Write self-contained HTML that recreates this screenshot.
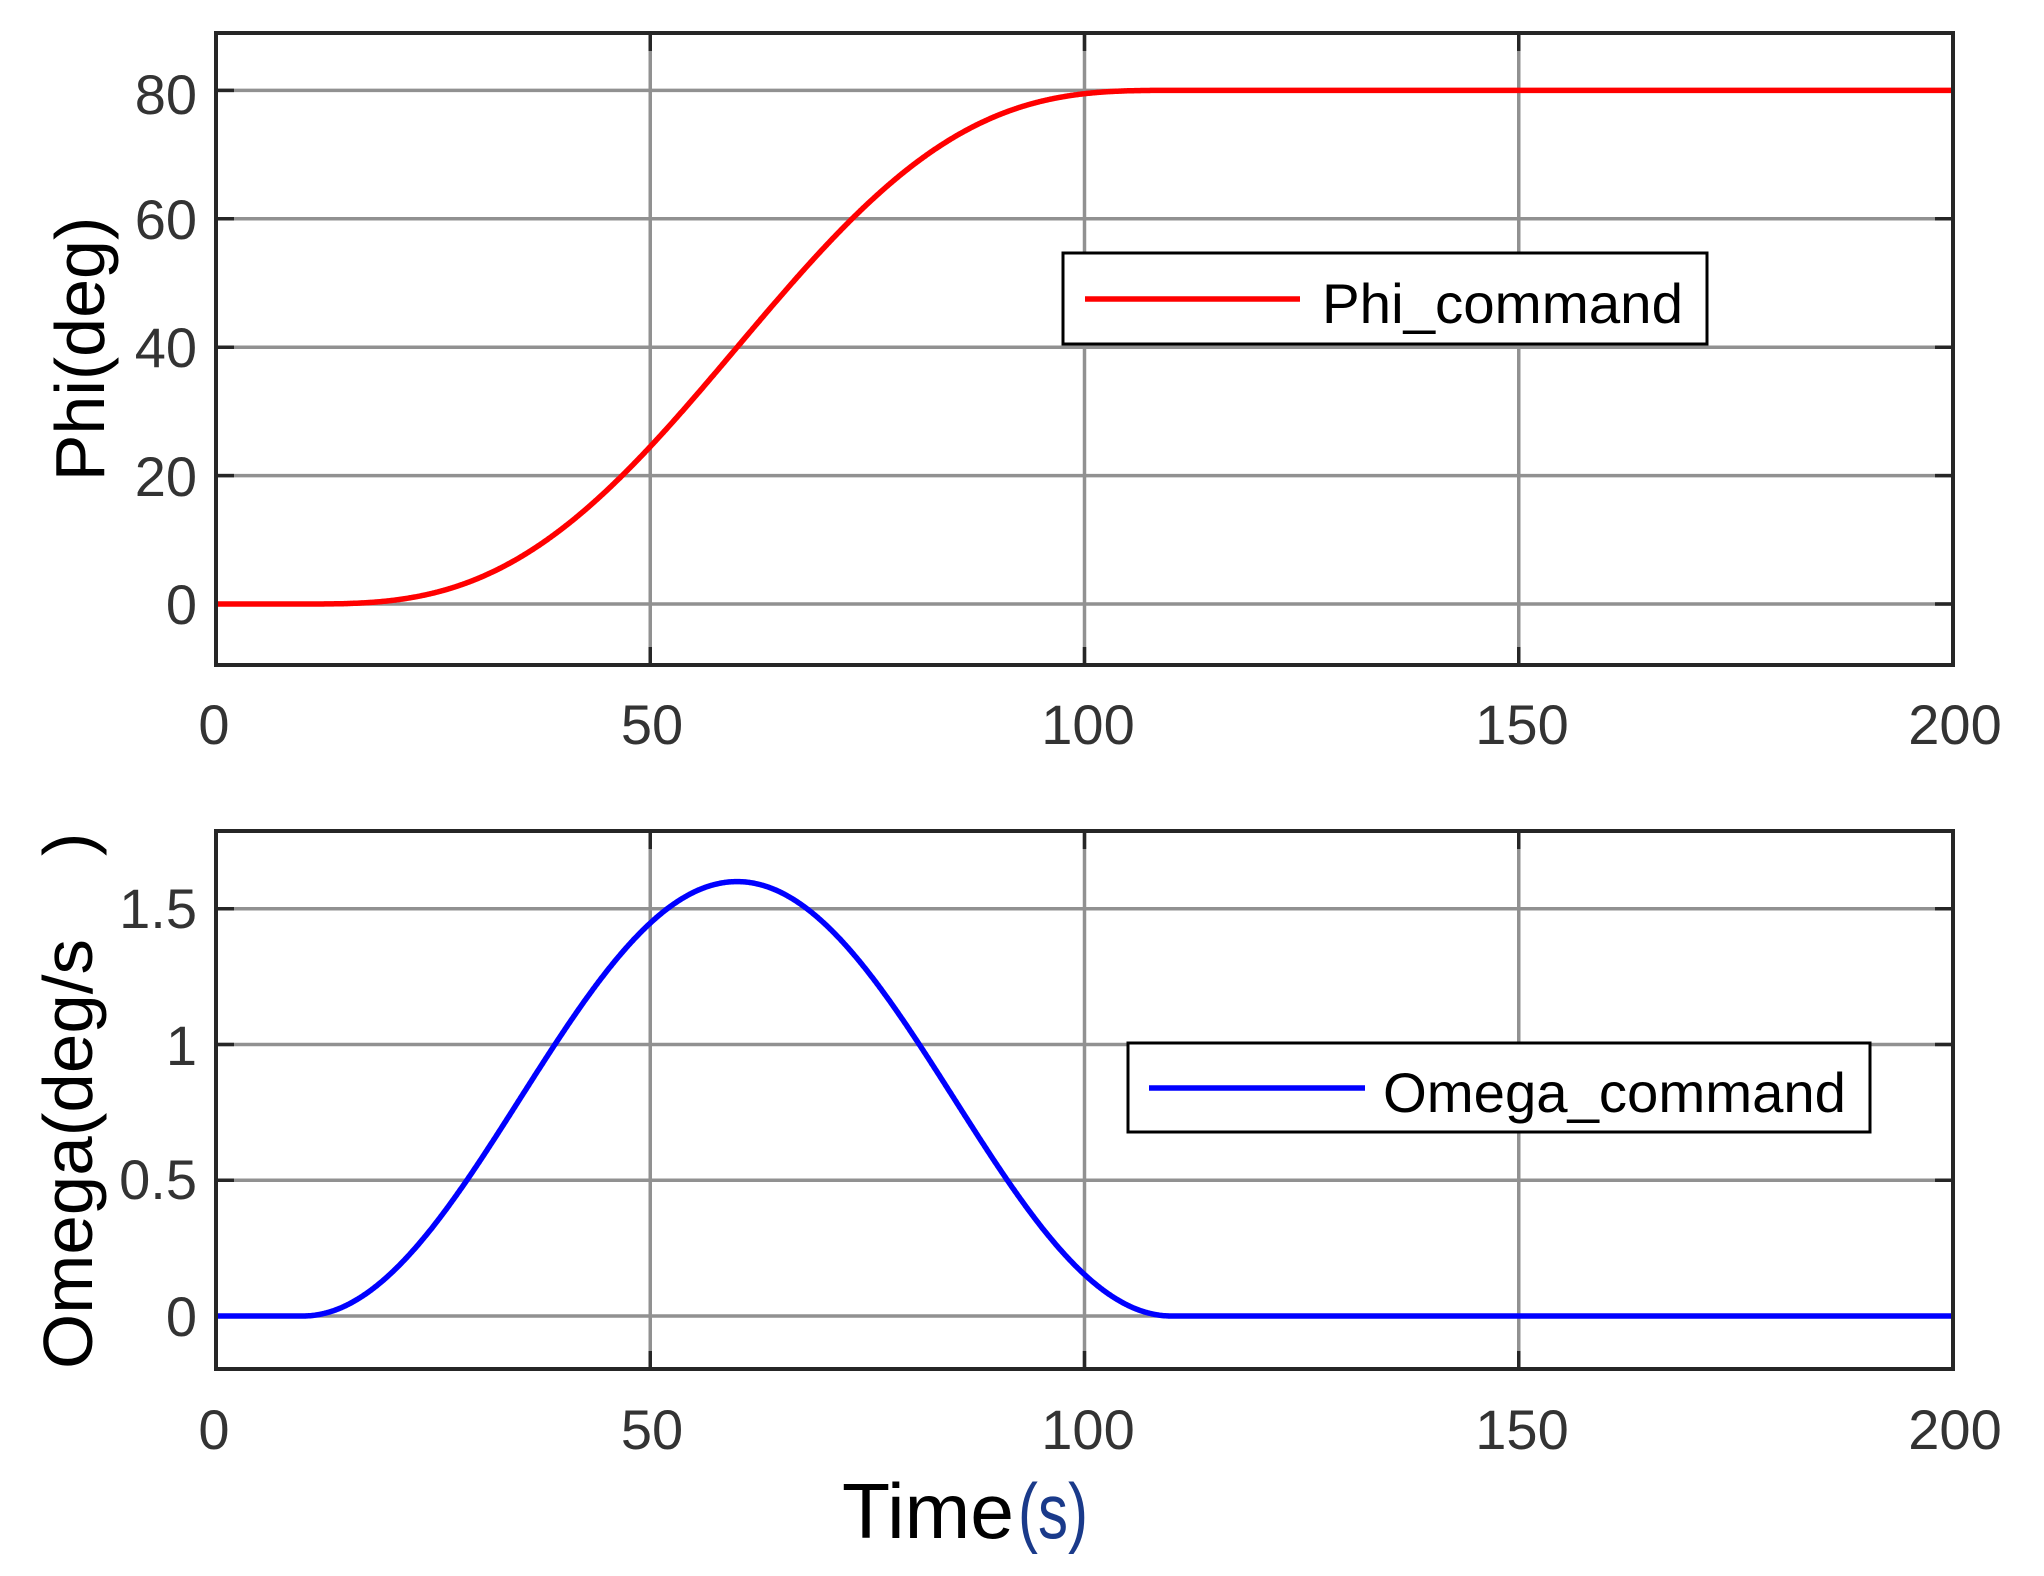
<!DOCTYPE html>
<html><head><meta charset="utf-8"><style>
html,body{margin:0;padding:0;background:#fff;}
svg{display:block;}
text{font-family:"Liberation Sans",Arial,sans-serif;}
</style></head><body>
<svg id="s" width="2044" height="1576" viewBox="0 0 2044 1576" xmlns="http://www.w3.org/2000/svg">
<rect width="2044" height="1576" fill="#fff"/>
<g id="g1"></g>
<g id="g2"></g>
<g font-size="56" fill="#333" text-anchor="end">
<text x="197" y="114">80</text>
<text x="197" y="239">60</text>
<text x="197" y="367">40</text>
<text x="197" y="496">20</text>
<text x="197" y="624">0</text>
</g>
<g font-size="56" fill="#333" text-anchor="middle">
<text x="214" y="744">0</text>
<text x="652" y="744">50</text>
<text x="1088" y="744">100</text>
<text x="1522" y="744">150</text>
<text x="1955" y="744">200</text>
</g>
<text transform="translate(104,349) rotate(-90)" font-size="70" text-anchor="middle" fill="#000">Phi(deg)</text>
<g font-size="56" fill="#333" text-anchor="end">
<text x="197" y="928">1.5</text>
<text x="197" y="1065">1</text>
<text x="197" y="1199">0.5</text>
<text x="197" y="1336">0</text>
</g>
<g font-size="56" fill="#333" text-anchor="middle">
<text x="214" y="1449">0</text>
<text x="652" y="1449">50</text>
<text x="1088" y="1449">100</text>
<text x="1522" y="1449">150</text>
<text x="1955" y="1449">200</text>
</g>
<text transform="translate(92,1369) rotate(-90)" font-size="70" fill="#000" textLength="430" lengthAdjust="spacingAndGlyphs">Omega(deg/s</text>
<text transform="translate(92,856) rotate(-90)" font-size="70" fill="#000">)</text>
<text x="842" y="1538" font-size="78" fill="#000" textLength="172" lengthAdjust="spacingAndGlyphs">Time</text>
<text x="1018" y="1538" font-size="78" fill="#1a3a8a" textLength="70" lengthAdjust="spacingAndGlyphs">(s)</text>
<rect x="1063" y="253" width="644" height="91" fill="#fff" stroke="#000" stroke-width="3"/>
<line x1="1085" y1="299" x2="1300" y2="299" stroke="#ff0000" stroke-width="5.5"/>
<text x="1322" y="323" font-size="56" fill="#000" textLength="361" lengthAdjust="spacingAndGlyphs">Phi_command</text>
<rect x="1128" y="1043" width="742" height="89" fill="#fff" stroke="#000" stroke-width="3"/>
<line x1="1149" y1="1088" x2="1365" y2="1088" stroke="#0000ff" stroke-width="5.5"/>
<text x="1383" y="1112" font-size="56" fill="#000" textLength="463" lengthAdjust="spacingAndGlyphs">Omega_command</text>
</svg>
<script>
(function(){
var NS="http://www.w3.org/2000/svg";
var X0=216,X1=1953;
function X(t){return X0+(X1-X0)*t/200;}
function el(p,tag,a){var e=document.createElementNS(NS,tag);for(var k in a)e.setAttribute(k,a[k]);p.appendChild(e);return e;}
function plot(g,top,bot,yt,Y,fn,col){
  [50,100,150].forEach(function(t){el(g,"line",{x1:X(t),y1:top,x2:X(t),y2:bot,stroke:"#919191","stroke-width":3.5});
    el(g,"line",{x1:X(t),y1:top,x2:X(t),y2:top+18,stroke:"#262626","stroke-width":3.5});
    el(g,"line",{x1:X(t),y1:bot,x2:X(t),y2:bot-18,stroke:"#262626","stroke-width":3.5});});
  yt.forEach(function(v){var y=Y(v);el(g,"line",{x1:X0,y1:y,x2:X1,y2:y,stroke:"#919191","stroke-width":3.5});
    el(g,"line",{x1:X0,y1:y,x2:X0+18,y2:y,stroke:"#262626","stroke-width":3.5});
    el(g,"line",{x1:X1,y1:y,x2:X1-18,y2:y,stroke:"#262626","stroke-width":3.5});});
  var d="";for(var i=0;i<=2000;i++){var t=i/10;d+=(i?"L":"M")+X(t).toFixed(1)+","+Y(fn(t)).toFixed(1);}
  el(g,"path",{d:d,fill:"none",stroke:col,"stroke-width":5.5,"stroke-linejoin":"round"});
  el(g,"rect",{x:X0,y:top,width:X1-X0,height:bot-top,fill:"none",stroke:"#262626","stroke-width":4});
}
function phi(t){if(t<10)return 0;if(t>110)return 80;var u=t-10;return 0.8*u-0.8*100/(2*Math.PI)*Math.sin(2*Math.PI*u/100);}
function om(t){if(t<10||t>110)return 0;return 0.8*(1-Math.cos(2*Math.PI*(t-10)/100));}
plot(document.getElementById("g1"),33,665,[0,20,40,60,80],function(v){return 604-6.42*v;},phi,"#ff0000");
plot(document.getElementById("g2"),831,1369,[0,0.5,1,1.5],function(v){return 1316-271.5*v;},om,"#0000ff");
})();
</script>
</body></html>
